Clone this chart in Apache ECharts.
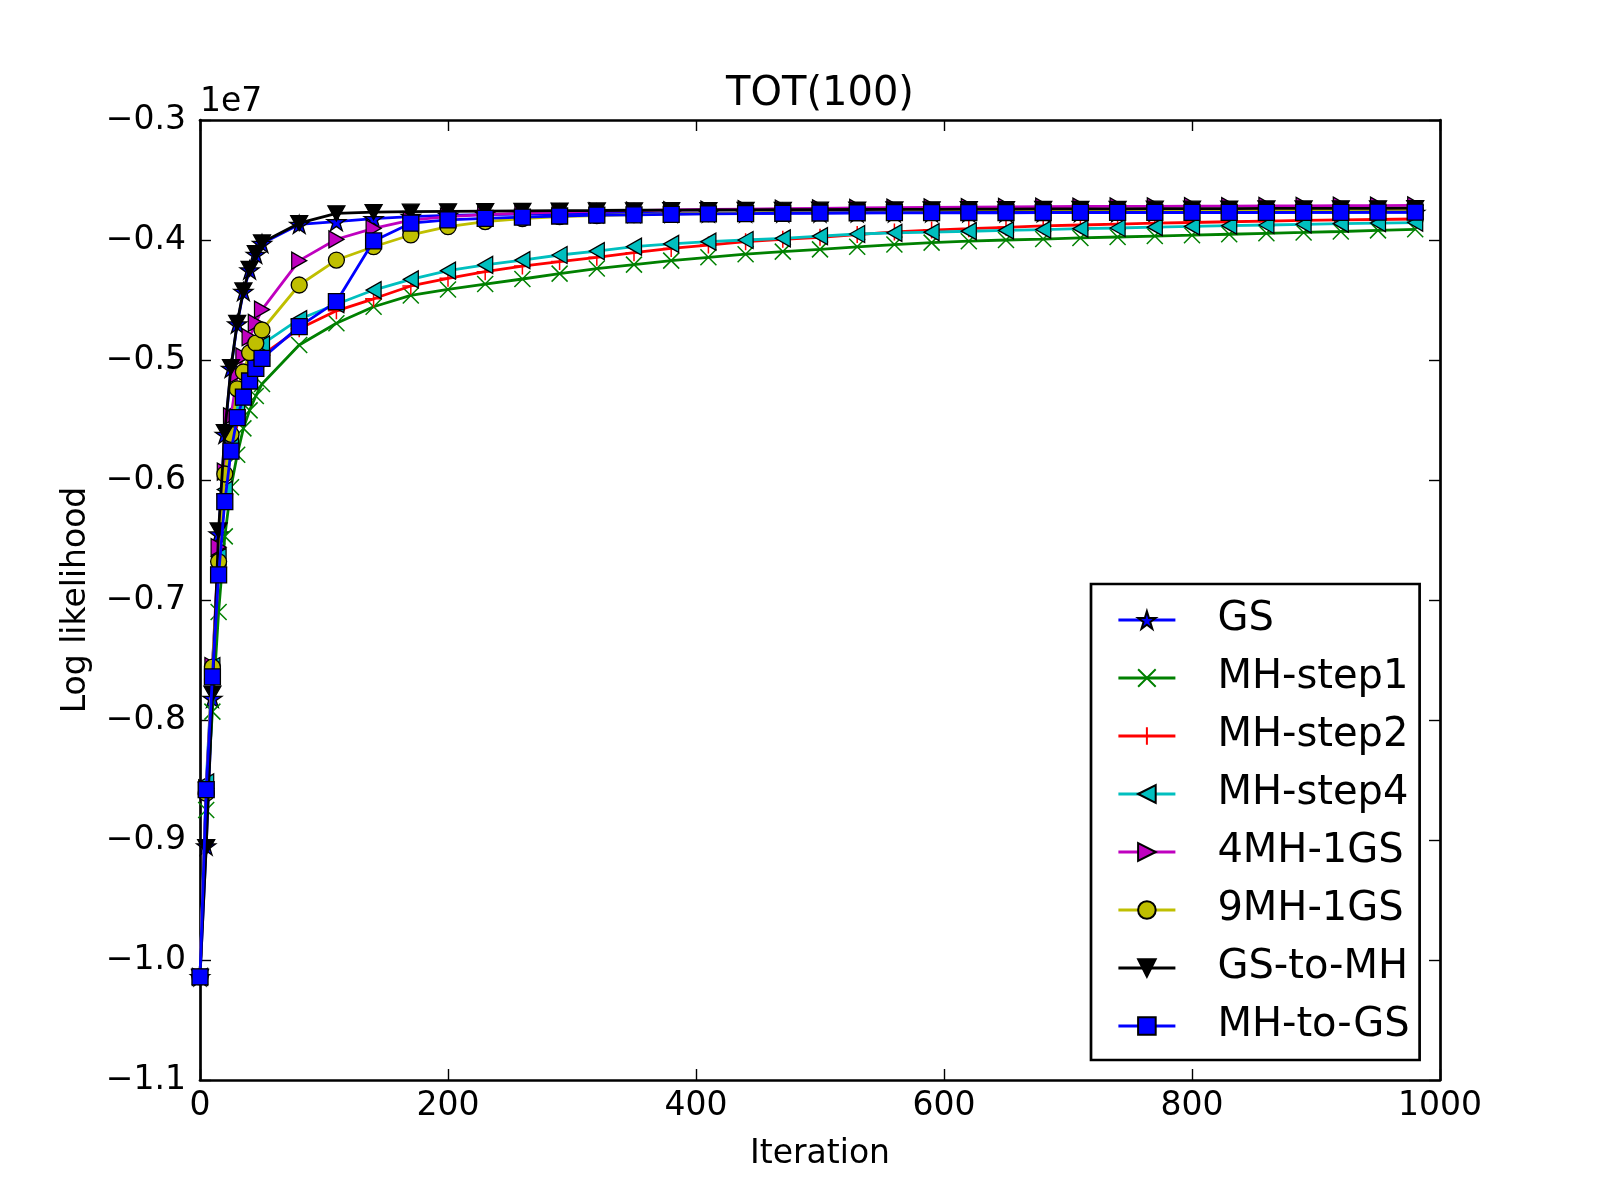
<!DOCTYPE html>
<html>
<head>
<meta charset="utf-8">
<script src="https://cdn.jsdelivr.net/npm/echarts@6/dist/echarts.min.js"></script>
<style>
html,body{margin:0;padding:0;background:#ffffff;}
#chart{width:1600px;height:1200px;}
</style>
</head>
<body>
<div id="chart"></div>
<script>
// values are read in units of 1e7 (as shown by the "1e7" offset label)
const SCALE = 1e7;
const titleText = 'TOT(100)';
const xAxisName = 'Iteration';
const yAxisName = 'Log likelihood';
const offsetText = '1e7';
const xTicks = [0, 200, 400, 600, 800, 1000];
const yTicks = [-1.1, -1.0, -0.9, -0.8, -0.7, -0.6, -0.5, -0.4, -0.3];

const iterations = [0,5,10,15,20,25,30,35,40,45,50,80,110,140,170,200,230,260,290,320,350,380,410,440,470,500,530,560,590,620,650,680,710,740,770,800,830,860,890,920,950,980];

const seriesNames = ['GS','MH-step1','MH-step2','MH-step4','4MH-1GS','9MH-1GS','GS-to-MH','MH-to-GS'];

const gs = [-1.014,-0.905,-0.782,-0.645,-0.562,-0.507,-0.470,-0.443,-0.425,-0.412,-0.403,
 -0.387,-0.3847,-0.3822,-0.3805,-0.3795,-0.3788,-0.3784,-0.3781,-0.3779,-0.3778,
 -0.3777,-0.3776,-0.3776,-0.3775,-0.3775,-0.3774,-0.3774,-0.3773,-0.3773,-0.3773,
 -0.3772,-0.3772,-0.3772,-0.3771,-0.3771,-0.3771,-0.3771,-0.3770,-0.3770,-0.3770,-0.3770];

const mhStep1 = [-1.014,-0.875,-0.793,-0.710,-0.647,-0.606,-0.579,-0.557,-0.542,-0.530,-0.520,
 -0.4875,-0.4694,-0.4556,-0.4462,-0.4412,-0.4367,-0.4325,-0.4280,-0.4238,-0.4205,
 -0.4172,-0.4144,-0.4118,-0.4097,-0.4078,-0.4057,-0.4038,-0.4022,-0.4010,-0.4000,
 -0.3992,-0.3983,-0.3975,-0.3967,-0.3960,-0.3952,-0.3944,-0.3937,-0.3929,-0.3920,-0.3911];

const mhStep2 = [-1.014,-0.862,-0.766,-0.673,-0.612,-0.576,-0.550,-0.532,-0.518,-0.506,-0.496,
 -0.474,-0.459,-0.449,-0.4383,-0.4319,-0.4264,-0.4217,-0.4180,-0.4144,-0.4106,
 -0.4070,-0.4042,-0.4014,-0.3994,-0.3978,-0.3955,-0.3933,-0.3917,-0.3906,-0.3894,
 -0.3883,-0.3875,-0.3867,-0.3860,-0.3854,-0.3848,-0.3842,-0.3837,-0.3833,-0.3829,-0.3825];

const mhStep4 = [-1.014,-0.852,-0.755,-0.664,-0.608,-0.568,-0.541,-0.522,-0.507,-0.496,-0.487,
 -0.466,-0.4535,-0.4417,-0.4328,-0.4256,-0.4208,-0.4167,-0.4125,-0.4092,-0.4056,
 -0.4033,-0.4014,-0.4000,-0.3986,-0.3967,-0.3950,-0.3940,-0.3935,-0.3927,-0.3920,
 -0.3913,-0.3906,-0.3900,-0.3893,-0.3887,-0.3881,-0.3875,-0.3869,-0.3864,-0.3859,-0.3855];

const mh4gs1 = [-1.014,-0.857,-0.755,-0.656,-0.593,-0.547,-0.512,-0.497,-0.481,-0.469,-0.458,
 -0.4172,-0.3994,-0.3903,-0.3835,-0.3805,-0.3788,-0.3776,-0.3767,-0.3760,-0.3755,
 -0.3750,-0.3746,-0.3742,-0.3739,-0.3736,-0.3733,-0.3730,-0.3728,-0.3726,-0.3724,
 -0.3722,-0.3721,-0.3720,-0.3719,-0.3718,-0.3717,-0.3716,-0.3715,-0.3714,-0.3713,-0.3712];

const mh9gs1 = [-1.014,-0.861,-0.756,-0.668,-0.595,-0.562,-0.524,-0.510,-0.494,-0.486,-0.475,
 -0.4375,-0.4167,-0.4056,-0.3958,-0.3889,-0.3847,-0.3822,-0.3806,-0.3796,-0.3789,
 -0.3783,-0.3779,-0.3775,-0.3772,-0.3769,-0.3766,-0.3763,-0.3761,-0.3760,-0.3759,
 -0.3758,-0.3757,-0.3757,-0.3756,-0.3756,-0.3755,-0.3755,-0.3754,-0.3754,-0.3754,-0.3753];

const gsToMh = [-1.014,-0.906,-0.778,-0.642,-0.560,-0.506,-0.469,-0.442,-0.424,-0.411,-0.402,
 -0.386,-0.3778,-0.3768,-0.3764,-0.3761,-0.3759,-0.3757,-0.3755,-0.3754,-0.3752,
 -0.3751,-0.3750,-0.3749,-0.3748,-0.3747,-0.3746,-0.3745,-0.3744,-0.3743,-0.3742,
 -0.3741,-0.3740,-0.3740,-0.3739,-0.3739,-0.3738,-0.3737,-0.3737,-0.3736,-0.3736,-0.3735];

const mhToGs = [-1.014,-0.858,-0.764,-0.679,-0.618,-0.576,-0.548,-0.531,-0.5175,-0.507,-0.4986,
 -0.4722,-0.4514,-0.4008,-0.3860,-0.3833,-0.3820,-0.3810,-0.3800,-0.3793,-0.3790,
 -0.3786,-0.3783,-0.3780,-0.3777,-0.3775,-0.3773,-0.3772,-0.3772,-0.3771,-0.3771,
 -0.3771,-0.3770,-0.3770,-0.3770,-0.3770,-0.3769,-0.3769,-0.3769,-0.3769,-0.3768,-0.3768];

const seriesValues = [gs, mhStep1, mhStep2, mhStep4, mh4gs1, mh9gs1, gsToMh, mhToGs];

const FONT = 'DejaVu Sans';
const STAR = 'path://M50,0L61.23,34.55L97.55,34.55L68.17,55.9L79.39,90.45L50,69.1L20.61,90.45L31.83,55.9L2.45,34.55L38.77,34.55Z';
const XMARK = 'path://M0,0L10,10M10,0L0,10';
const PLUS = 'path://M5,0L5,10M0,5L10,5';

const styles = [
  {color:'#0000ff', symbol: STAR, size:[19,18], rotate:0, filled:true},
  {color:'#008000', symbol: XMARK, size:16, rotate:0, filled:false},
  {color:'#ff0000', symbol: PLUS, size:17, rotate:0, filled:false},
  {color:'#00bfbf', symbol: 'triangle', size:[17,15], rotate:90, filled:true},
  {color:'#bf00bf', symbol: 'triangle', size:[17,15], rotate:-90, filled:true},
  {color:'#bfbf00', symbol: 'circle', size:16, rotate:0, filled:true},
  {color:'#000000', symbol: 'triangle', size:[17,15], rotate:180, filled:true},
  {color:'#0000ff', symbol: 'rect', size:16, rotate:0, filled:true}
];

const series = seriesNames.map((name, i) => {
  const st = styles[i];
  return {
    name: name,
    type: 'line',
    xAxisIndex: 0,
    yAxisIndex: 0,
    z: 10 + i,
    data: iterations.map((x, k) => [x, seriesValues[i][k] * SCALE]),
    symbol: st.symbol,
    symbolSize: st.size,
    symbolRotate: st.rotate,
    showAllSymbol: true,
    clip: true,
    lineStyle: {color: st.color, width: 2.8},
    itemStyle: st.filled
      ? {color: st.color, borderColor: '#000000', borderWidth: 1.3}
      : {color: 'rgba(0,0,0,0)', borderColor: st.color, borderWidth: 1.5},
    emphasis: {disabled: true},
    animation: false
  };
});

const fmtY = v => {
  const s = (v / SCALE).toFixed(1);
  return s.replace('-', '\u2212');
};
const fmtX = v => String(Math.round(v));

const axisLineStyle = {color: '#000000', width: 2.7};
const tickStyle = {color: '#000000', width: 1.4};

const option = {
  backgroundColor: '#ffffff',
  animation: false,
  textStyle: {fontFamily: FONT},
  grid: {left: 200, right: 160, top: 120, bottom: 120, containLabel: false},
  xAxis: [
    {
      type: 'value', position: 'bottom', min: xTicks[0], max: xTicks[xTicks.length-1], interval: 200,
      name: xAxisName, nameLocation: 'middle', nameGap: 58,
      nameTextStyle: {fontFamily: FONT, fontSize: 33, color: '#000'},
      axisLine: {show: true, onZero: false, lineStyle: axisLineStyle},
      axisTick: {show: true, inside: true, length: 11, lineStyle: tickStyle},
      axisLabel: {show: true, margin: 10, fontFamily: FONT, fontSize: 33, color: '#000', formatter: fmtX},
      splitLine: {show: false}
    },
    {
      type: 'value', position: 'top', min: xTicks[0], max: xTicks[xTicks.length-1], interval: 200,
      axisLine: {show: true, onZero: false, lineStyle: axisLineStyle},
      axisTick: {show: true, inside: true, length: 11, lineStyle: tickStyle},
      axisLabel: {show: false},
      splitLine: {show: false}
    }
  ],
  yAxis: [
    {
      type: 'value', position: 'left', min: yTicks[0] * SCALE, max: yTicks[yTicks.length-1] * SCALE, interval: 0.1 * SCALE,
      name: yAxisName, nameLocation: 'middle', nameGap: 107,
      nameTextStyle: {fontFamily: FONT, fontSize: 33, color: '#000'},
      axisLine: {show: true, onZero: false, lineStyle: axisLineStyle},
      axisTick: {show: true, inside: true, length: 11, lineStyle: tickStyle},
      axisLabel: {show: true, margin: 14, fontFamily: FONT, fontSize: 33, color: '#000', formatter: fmtY},
      splitLine: {show: false}
    },
    {
      type: 'value', position: 'right', min: yTicks[0] * SCALE, max: yTicks[yTicks.length-1] * SCALE, interval: 0.1 * SCALE,
      axisLine: {show: true, onZero: false, lineStyle: axisLineStyle},
      axisTick: {show: true, inside: true, length: 11, lineStyle: tickStyle},
      axisLabel: {show: false},
      splitLine: {show: false}
    }
  ],
  legend: {
    show: true,
    orient: 'vertical',
    left: 1091,
    top: 584,
    padding: [16, 10, 14, 26],
    itemGap: 18,
    itemWidth: 57,
    itemHeight: 22,
    selectedMode: false,
    backgroundColor: '#ffffff',
    borderColor: '#000000',
    borderWidth: 2.7,
    borderRadius: 0,
    lineStyle: {width: 2.8},
    textStyle: {fontFamily: FONT, fontSize: 40, lineHeight: 40, color: '#000', padding: [0, 0, 0, 37]},
    data: seriesNames
  },
  graphic: [
    {type: 'text', x: 820, y: 95, z: 100,
     style: {text: titleText, fontFamily: FONT, fontSize: 40, fill: '#000', align: 'center', verticalAlign: 'middle'}},
    {type: 'text', x: 200, y: 102, z: 100,
     style: {text: offsetText, fontFamily: FONT, fontSize: 33, fill: '#000', align: 'left', verticalAlign: 'middle'}}
  ],
  series: series
};

const chart = echarts.init(document.getElementById('chart'), null, {renderer: 'canvas', width: 1600, height: 1200});
chart.setOption(option);
</script>
</body>
</html>
